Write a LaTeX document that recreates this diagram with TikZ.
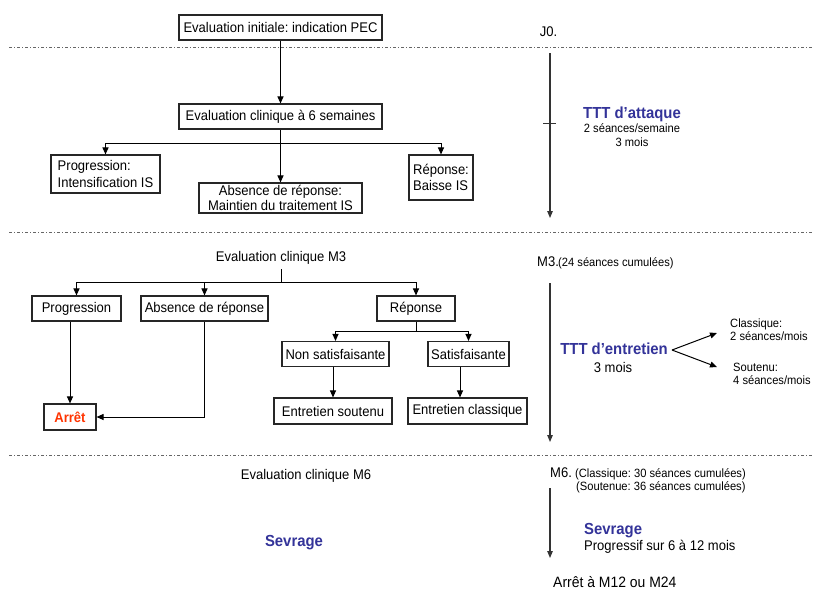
\documentclass[tikz,border=0pt]{standalone}
\usepackage{fontspec}
\setmainfont[FakeStretch=0.93]{Liberation Sans}
\usetikzlibrary{arrows.meta}
\definecolor{pblue}{RGB}{51,51,153}
\definecolor{pred}{RGB}{255,51,0}
\newcommand\fmain{\fontsize{14}{16.5}\selectfont}
\newcommand\ftight{\fontsize{14}{14.5}\selectfont}
\newcommand\fsmall{\fontsize{12}{14}\selectfont}
\newcommand\fbig{\fontsize{16}{18}\selectfont\bfseries}
\frenchspacing
\begin{document}
\begin{tikzpicture}[x=1pt,y=-1pt,
  box/.style={draw=black!85, line width=1.1pt, inner sep=0pt, font=\fmain},
  lbl/.style={inner sep=0pt, font=\fmain},
  arr/.style={-{Triangle[length=7pt,width=6pt]}, line width=1pt},
  tl/.style={-{Triangle[length=7pt,width=5.5pt]}, line width=1.1pt, black!80},
  sepline/.style={black!60, line width=0.9pt, dash pattern=on 3pt off 2pt on 1pt off 2pt}]
\useasboundingbox (0,0) rectangle (813,590);
% separators
\draw[sepline] (9,47) -- (813,47);
\draw[sepline] (9,232) -- (813,232);
\draw[sepline] (9,455) -- (813,455);
% ---- section 1
\node[box, minimum width=203pt, minimum height=25pt] (b1) at (280.5,27.5) {Evaluation initiale: indication PEC};
\node[box, minimum width=203pt, minimum height=25pt] (b2) at (280.5,116.5) {Evaluation clinique à 6 semaines};
\node[box, minimum width=109pt, minimum height=38pt, align=left] (p1) at (105.5,174) {Progression:\\Intensification IS};
\node[box, minimum width=163pt, minimum height=30pt, align=center, font=\ftight] (a1) at (280.5,198) {Absence de réponse:\\Maintien du traitement IS};
\node[box, minimum width=64pt, minimum height=45pt, align=left] (r1) at (441,177.5) {Réponse:\\Baisse IS};
\draw[arr] (b1) -- (b2);
\draw[arr] (b2.south) -- (a1.north);
\coordinate (h1) at (280.5,143);
\draw[arr] (h1) -| (p1.north);
\draw[arr] (h1) -| (r1.north);
% timeline 1
\node[lbl, anchor=base] (j0) at (548.5,36) {J0.};
\coordinate (t1a) at (550,53);
\coordinate (t1b) at (550,218);
\draw[tl] (t1a) -- (t1b);
\coordinate (k1) at (543,123);
\coordinate (k2) at (556,123);
\draw[line width=1pt, black!80] (k1) -- (k2);
\node[inner sep=0pt, anchor=base, font=\fbig, text=pblue] (ttta) at (632,118) {TTT d’attaque};
\node[inner sep=0pt, anchor=base, font=\fsmall] (ttta1) at (632,132) {2 séances/semaine};
\node[inner sep=0pt, anchor=base, font=\fsmall] (ttta2) at (632,146) {3 mois};
% ---- section 2
\node[lbl, anchor=base] (m3e) at (281,261.5) {Evaluation clinique M3};
\node[box, minimum width=89pt, minimum height=25pt] (p2) at (76.5,308.5) {Progression};
\node[box, minimum width=127pt, minimum height=25pt] (a2) at (204.5,308.5) {Absence de réponse};
\node[box, minimum width=78pt, minimum height=25pt] (r2) at (416,308.5) {Réponse};
\node[box, minimum width=107pt, minimum height=25pt] (ns) at (335.5,354) {Non satisfaisante};
\node[box, minimum width=81pt, minimum height=25pt] (sa) at (468.5,354) {Satisfaisante};
\node[box, minimum width=118pt, minimum height=26pt] (es) at (333,411) {Entretien soutenu};
\node[box, minimum width=119pt, minimum height=26pt] (ec) at (467.5,411) {Entretien classique};
\node[box, minimum width=52pt, minimum height=26pt, font=\fmain\bfseries, text=pred] (ar) at (70,417) {Arrêt};
\coordinate (m3top) at (281,269);
\coordinate (h2) at (281,282);
\draw[line width=1pt] (m3top) -- (h2);
\draw[arr] (h2) -| (p2.north);
\draw[arr] (h2) -| (a2.north);
\draw[arr] (h2) -| (r2.north);
\coordinate (h3) at (416,331);
\draw[line width=1pt] (r2.south) -- (h3);
\draw[arr] (h3) -| (ns.north);
\draw[arr] (h3) -| (sa.north);
\draw[arr] (ns.south -| es.north) -- (es.north);
\coordinate (sa0) at (460,366.5);
\draw[arr] (sa0) -- (sa0 |- ec.north);
\draw[arr] (p2.south -| ar.north) -- (ar.north);
\draw[arr] (a2.south) |- (ar.east);
% timeline 2
\node[lbl, anchor=base west] (m3) at (537,266) {M3.};
\node[inner sep=0pt, anchor=base west, font=\fsmall] (m3s) at (558,266) {(24 séances cumulées)};
\coordinate (t2a) at (550,283);
\coordinate (t2b) at (550,442);
\draw[tl] (t2a) -- (t2b);
\node[inner sep=0pt, anchor=base east, font=\fbig, text=pblue] (ttte) at (668,354) {TTT d’entretien};
\node[lbl, anchor=base] (ttte1) at (613,372) {3 mois};
\coordinate (f0) at (672,350);
\coordinate (f1) at (717,333);
\coordinate (f2) at (717,367);
\draw[arr] (f0) -- (f1);
\draw[arr] (f0) -- (f2);
\node[inner sep=0pt, anchor=base west, font=\fsmall] (cl1) at (730,327) {Classique:};
\node[inner sep=0pt, anchor=base west, font=\fsmall] (cl2) at (730,340) {2 séances/mois};
\node[inner sep=0pt, anchor=base west, font=\fsmall] (so1) at (733,371) {Soutenu:};
\node[inner sep=0pt, anchor=base west, font=\fsmall] (so2) at (733,384) {4 séances/mois};
% ---- section 3
\node[lbl, anchor=base] (m6e) at (306,479) {Evaluation clinique M6};
\node[inner sep=0pt, anchor=base, font=\fbig, text=pblue] (sev) at (294,546) {Sevrage};
\node[lbl, anchor=base west] (m6) at (550,477) {M6.};
\node[inner sep=0pt, anchor=base west, font=\fsmall] (m6a) at (575,477) {(Classique: 30 séances cumulées)};
\node[inner sep=0pt, anchor=base west, font=\fsmall] (m6b) at (576,490) {(Soutenue: 36 séances cumulées)};
\coordinate (t3a) at (550,488);
\coordinate (t3b) at (550,558);
\draw[tl] (t3a) -- (t3b);
\node[inner sep=0pt, anchor=base west, font=\fbig, text=pblue] (sev2) at (584,534) {Sevrage};
\node[lbl, anchor=base west] (prog) at (584,550) {Progressif sur 6 à 12 mois};
\node[inner sep=0pt, anchor=base west, font=\fontsize{15}{17}\selectfont] (fin) at (553,587) {Arrêt à M12 ou M24};
\end{tikzpicture}
\end{document}
